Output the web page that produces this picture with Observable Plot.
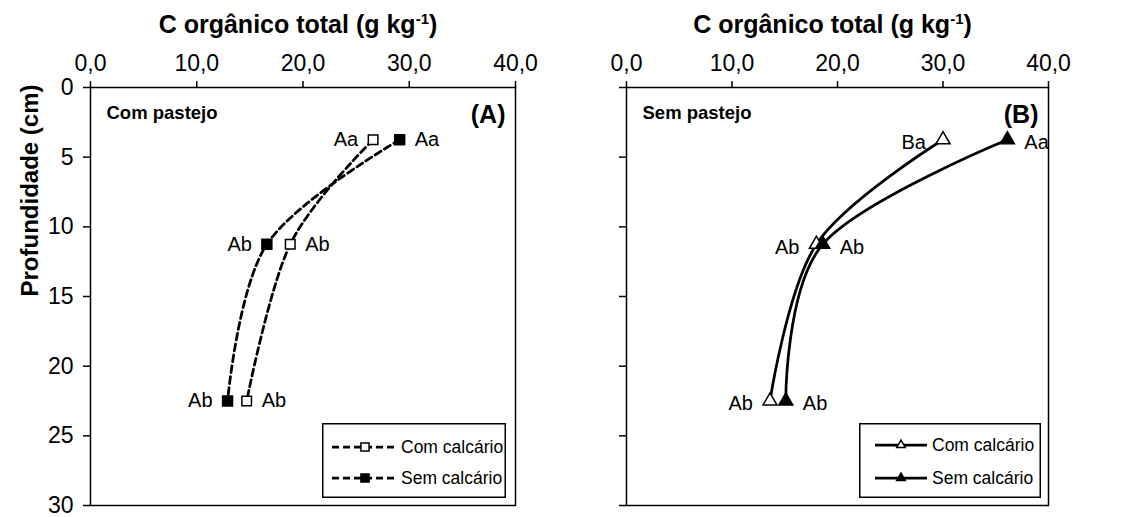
<!DOCTYPE html>
<html><head><meta charset="utf-8">
<script src="https://cdn.jsdelivr.net/npm/d3@7"></script>
<script src="https://cdn.jsdelivr.net/npm/@observablehq/plot@0.6"></script>
<style>
body{margin:0;background:#fff;}
#wrap{position:relative;width:1123px;height:517px;background:#fff;font-family:"Liberation Sans",Arial,sans-serif;}
#wrap > svg{position:absolute;top:0;}
</style></head><body><div id="wrap"></div>
<script>
// ---- data ----
const depth = [3.75, 11.25, 22.5];
const xTicks = [0, 10, 20, 30, 40];
const yTicks = [0, 5, 10, 15, 20, 25, 30];
const aCom = [26.6, 18.8, 14.7];
const aSem = [29.1, 16.6, 12.9];
const bCom = [30.0, 18.0, 13.6];
const bSem = [36.1, 18.6, 15.1];
const aComLab = ["Aa", "Ab", "Ab"];
const aSemLab = ["Aa", "Ab", "Ab"];
const bComLab = ["Ba", "Ab", "Ab"];
const bSemLab = ["Aa", "Ab", "Ab"];
const seriesNames = ["Com calcário", "Sem calcário"];
const panelTitles = ["Com pastejo", "Sem pastejo"];
const panelTags = ["(A)", "(B)"];
const xTitle = "C orgânico total (g kg";
const xTitleSup = "-1";
const yTitle = "Profundidade (cm)";

const FONT = '"Liberation Sans", Arial, sans-serif';
const wrap = document.getElementById("wrap");

function panel(cfg) {
  const {left, width, mL, mR, com, sem, comLab, semLab, title, tag, dashed,
         symCom, symSem, rCom, rSem, labDx, labDy, showY} = cfg;
  const comRows = com.map((v, i) => ({c: v, d: depth[i], lab: comLab[i], left: v <= sem[i]}));
  const semRows = sem.map((v, i) => ({c: v, d: depth[i], lab: semLab[i], left: v < com[i]}));
  const all = comRows.concat(semRows);
  const lineOpts = {x: "c", y: "d", curve: "cardinal", stroke: "black", strokeWidth: 2.75,
                    strokeDasharray: dashed ? "7,4" : null};
  const svg = Plot.plot({
    width, height: 517, marginLeft: mL, marginRight: mR, marginTop: 87, marginBottom: 12,
    style: {fontFamily: FONT, background: "transparent", color: "black", overflow: "visible"},
    x: {domain: [0, 40]},
    y: {domain: [0, 30], reverse: true},
    marks: [
      Plot.frame({stroke: "black", strokeWidth: 1.5}),
      Plot.axisX({anchor: "top", ticks: xTicks, tickFormat: d => d.toFixed(1).replace(".", ","),
                  tickSize: 7, tickPadding: 10, fontSize: 23, label: null, strokeWidth: 1.5}),
      Plot.axisY({anchor: "left", ticks: yTicks, tickSize: 7, tickPadding: 10, fontSize: 23, label: null,
                  tickFormat: showY ? (d => String(d)) : (() => ""), strokeWidth: 1.5}),
      Plot.line(comRows, lineOpts),
      Plot.line(semRows, lineOpts),
      Plot.dot(comRows, {x: "c", y: "d", symbol: symCom, r: rCom, fill: "white", stroke: "black", strokeWidth: 1.5}),
      Plot.dot(semRows, {x: "c", y: "d", symbol: symSem, r: rSem, fill: "black", stroke: "black", strokeWidth: 1.5}),
      Plot.text(all.filter(d => d.left), {x: "c", y: "d", text: "lab", textAnchor: "end", dx: -labDx, dy: labDy, fontSize: 20}),
      Plot.text(all.filter(d => !d.left), {x: "c", y: "d", text: "lab", textAnchor: "start", dx: labDx, dy: labDy, fontSize: 20}),
      Plot.text([title], {text: d => d, frameAnchor: "top-left", textAnchor: "start", dx: 16, dy: 31, lineAnchor: "bottom", fontWeight: "bold", fontSize: 18.5}),
      Plot.text([tag], {text: d => d, frameAnchor: "top-right", textAnchor: "end", dx: -10, dy: 35, lineAnchor: "bottom", fontWeight: "bold", fontSize: 25}),
      Plot.text([xTitle], {text: d => d, frameAnchor: "top", dx: -5, dy: -55, lineAnchor: "bottom", fontWeight: "bold", fontSize: 25}),
      showY ? Plot.text([yTitle], {text: d => d, frameAnchor: "left", dx: -60, rotate: -90, fontWeight: "bold", fontSize: 24}) : null
    ]
  });
  svg.style.left = left + "px";
  wrap.appendChild(svg);
  // superscript on the axis title
  d3.select(svg).selectAll("text").filter(function () { return this.textContent === xTitle; }).each(function () {
    const t = d3.select(this);
    t.text(null);
    t.append("tspan").text(xTitle);
    t.append("tspan").attr("dy", -9).attr("font-size", 15).text(xTitleSup);
    t.append("tspan").attr("dy", 9).text(")");
  });
}

function legend(cfg) {
  const {left, top, width, height, rowsY, x1, x2, xm, xt, dashed, syms, fills, size, fontSize} = cfg;
  const s = d3.select(wrap).append("svg")
    .attr("width", width).attr("height", height)
    .style("left", left + "px").style("top", top + "px")
    .style("font-family", FONT);
  s.append("rect").attr("x", 0.75).attr("y", 0.75).attr("width", width - 1.5).attr("height", height - 1.5)
    .attr("fill", "white").attr("stroke", "black").attr("stroke-width", 1.5);
  seriesNames.forEach((name, i) => {
    const y = rowsY[i];
    s.append("line").attr("x1", x1).attr("x2", x2).attr("y1", y).attr("y2", y)
      .attr("stroke", "black").attr("stroke-width", 2.75).attr("stroke-dasharray", dashed ? "7,4" : null);
    s.append("path").attr("d", d3.symbol(syms[i], Math.PI * size * size)())
      .attr("transform", `translate(${xm},${y})`).attr("fill", fills[i]).attr("stroke", "black").attr("stroke-width", 1.5);
    s.append("text").attr("x", xt).attr("y", y).attr("dy", "0.35em").attr("font-size", fontSize).attr("fill", "black").text(name);
  });
}

panel({left: 0, width: 570, mL: 90, mR: 55, com: aCom, sem: aSem, comLab: aComLab, semLab: aSemLab,
       title: panelTitles[0], tag: panelTags[0], dashed: true, symCom: "square", symSem: "square",
       rCom: 5.4, rSem: 5.6, labDx: 15, labDy: 0, showY: true});
panel({left: 570, width: 553, mL: 56, mR: 75, com: bCom, sem: bSem, comLab: bComLab, semLab: bSemLab,
       title: panelTitles[1], tag: panelTags[1], dashed: false, symCom: "triangle", symSem: "triangle",
       rCom: 5.2, rSem: 5.2, labDx: 17, labDy: 3, showY: false});

legend({left: 322, top: 423, width: 184, height: 75, rowsY: [24, 55], x1: 10, x2: 76, xm: 43, xt: 79,
        dashed: true, syms: [d3.symbolSquare, d3.symbolSquare], fills: ["white", "black"], size: 4.6, fontSize: 17.5});
legend({left: 859, top: 423, width: 182, height: 75, rowsY: [22, 55], x1: 16, x2: 68, xm: 42, xt: 73,
        dashed: false, syms: [d3.symbolTriangle, d3.symbolTriangle], fills: ["white", "black"], size: 3.2, fontSize: 17.5});
</script></body></html>
